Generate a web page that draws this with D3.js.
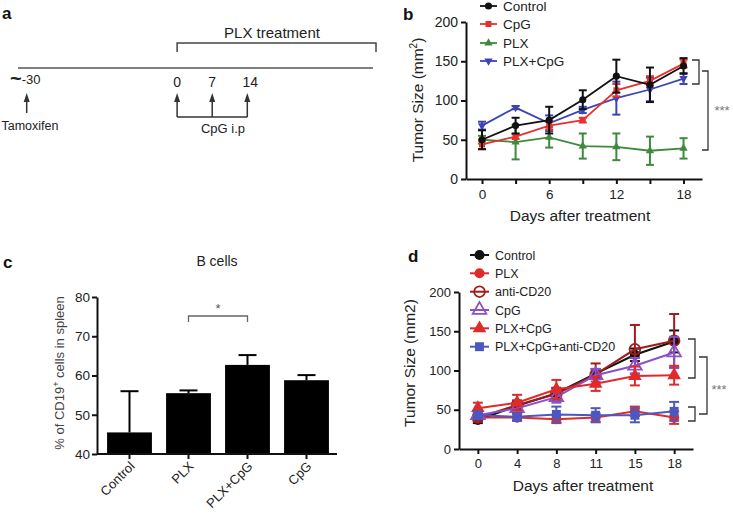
<!DOCTYPE html>
<html><head><meta charset="utf-8">
<script src="https://cdn.jsdelivr.net/npm/d3@7"></script>
<style>body{margin:0;background:#fff}svg{display:block;font-family:"Liberation Sans",Arial,sans-serif}</style>
</head><body><svg id="fig" width="733" height="515"></svg>
<script>
// ---------- Panel a (timeline) ----------
const aDoseDays = ["0", "7", "14"];
const aStart = "-30";

// ---------- Panel b data ----------
const bDays = [0, 3, 6, 9, 12, 15, 18];
const bTickLabels = [0, 6, 12, 18];
const bYTicks = [0, 50, 100, 150, 200];
const bNames = ["Control", "CpG", "PLX", "PLX+CpG"];
const bControl = [50, 68, 75, 101, 131, 120, 144];
const bControlErr = [12, 10, 17, 12, 21, 22, 10];
const bCpG = [44, 54, 68, 75, 113, 125, 147];
const bCpGErr = [6, 3, 5, 3, 8, 6, 5];
const bPLX = [50, 47, 53, 42, 41, 36, 39];
const bPLXErr = [5, 22, 13, 16, 17, 18, 13];
const bPLXCpG = [68, 91, 71, 88, 103, 114, 128];
const bPLXCpGErr = [5, 2, 10, 4, 21, 15, 7];

// ---------- Panel c data ----------
const cCategories = ["Control", "PLX", "PLX+CpG", "CpG"];
const cValues = [45.5, 55.5, 62.7, 58.8];
const cErrors = [10.5, 0.7, 2.5, 1.3];
const cYTicks = [40, 50, 60, 70, 80];

// ---------- Panel d data ----------
const dDays = ["0", "4", "8", "11", "15", "18"];
const dYTicks = [0, 50, 100, 150, 200];
const dNames = ["Control", "PLX", "anti-CD20", "CpG", "PLX+CpG", "PLX+CpG+anti-CD20"];
const dControl = [37, 55, 71, 96, 120, 137];
const dControlErr = [4, 5, 6, 6, 8, 14];
const dPLX = [40, 40, 38, 40, 48, 40];
const dPLXErr = [5, 4, 5, 5, 6, 8];
const dAntiCD20 = [40, 56, 70, 95, 127, 138];
const dAntiCD20Err = [4, 6, 8, 14, 31, 34];
const dCpG = [43, 52, 66, 94, 106, 123];
const dCpGErr = [4, 6, 7, 8, 10, 20];
const dPLXCpG = [52, 59, 76, 83, 93, 94];
const dPLXCpGErr = [7, 10, 12, 9, 12, 12];
const dTriple = [43, 41, 44, 43, 43, 48];
const dTripleErr = [5, 5, 10, 9, 9, 12];

const svg = d3.select("#fig");
const TXT = "#222";

function panelLabel(t, x, y) {
  svg.append("text").attr("x", x).attr("y", y).attr("font-size", 17).attr("font-weight", "bold").attr("fill", "#111").text(t);
}

function arrowUp(g, x, y0, y1, col) {
  g.append("line").attr("x1", x).attr("x2", x).attr("y1", y0).attr("y2", y1 + 6).attr("stroke", col).attr("stroke-width", 1.5);
  g.append("path").attr("d", `M${x},${y1} L${x - 3},${y1 + 9} L${x + 3},${y1 + 9} Z`).attr("fill", col);
}

// ================= Panel a =================
(function () {
  const g = svg.append("g");
  panelLabel("a", 2, 19);
  const t = d3.scaleLinear().domain([-30, 14]).range([26.7, 247.3]);
  g.append("line").attr("x1", 18).attr("x2", 373).attr("y1", 68).attr("y2", 68).attr("stroke", "#555").attr("stroke-width", 1.5);
  g.append("path").attr("d", `M${t(0)},52 V43 H376 V52`).attr("fill", "none").attr("stroke", "#444").attr("stroke-width", 1.5);
  g.append("text").attr("x", 272).attr("y", 38).attr("text-anchor", "middle").attr("font-size", 15).attr("fill", TXT).text("PLX treatment");
  const st = g.append("text").attr("x", 10).attr("y", 85).attr("fill", TXT);
  st.append("tspan").attr("font-size", 20).attr("font-weight", "bold").text("~");
  st.append("tspan").attr("font-size", 13).attr("dy", -1).text(aStart);
  arrowUp(g, t(-30), 113, 93, "#333");
  g.append("text").attr("x", 30).attr("y", 130).attr("text-anchor", "middle").attr("font-size", 12.5).attr("fill", TXT).text("Tamoxifen");
  aDoseDays.forEach(d => {
    const x = t(+d);
    g.append("text").attr("x", x + (d === "14" ? 3 : 0)).attr("y", 87).attr("text-anchor", "middle").attr("font-size", 14).attr("fill", TXT).text(d);
    arrowUp(g, x, 117, 93, "#333");
  });
  g.append("line").attr("x1", t(0)).attr("x2", t(14)).attr("y1", 117).attr("y2", 117).attr("stroke", "#333").attr("stroke-width", 1.5);
  g.append("text").attr("x", 223).attr("y", 133).attr("text-anchor", "middle").attr("font-size", 13).attr("fill", TXT).text("CpG i.p");
})();

function drawSeries(g, xs, vals, errs, x, y, st) {
  const line = d3.line().x((d, i) => x(xs[i])).y(d => y(d));
  g.append("path").datum(vals).attr("d", line).attr("fill", "none").attr("stroke", st.color).attr("stroke-width", st.lw);
  const eb = g.append("g").attr("stroke", st.color).attr("stroke-width", st.ew);
  vals.forEach((v, i) => {
    const cx = x(xs[i]);
    const yt = y(v + errs[i]), yb = y(v - errs[i]);
    eb.append("line").attr("x1", cx).attr("x2", cx).attr("y1", yt).attr("y2", yb);
    eb.append("line").attr("x1", cx - st.cap).attr("x2", cx + st.cap).attr("y1", yt).attr("y2", yt);
    eb.append("line").attr("x1", cx - st.cap).attr("x2", cx + st.cap).attr("y1", yb).attr("y2", yb);
  });
  g.append("g").selectAll("path").data(vals).join("path")
    .attr("transform", (d, i) => `translate(${x(xs[i])},${y(d)})${st.rot ? " rotate(180)" : ""}`)
    .attr("d", d3.symbol().type(st.sym).size(st.size))
    .attr("fill", st.fill).attr("stroke", st.color).attr("stroke-width", st.sw);
}

function legendItem(g, x0, x1, yy, tx, name, st, fs) {
  g.append("line").attr("x1", x0).attr("x2", x1).attr("y1", yy).attr("y2", yy).attr("stroke", st.color).attr("stroke-width", st.lw);
  g.append("path").attr("transform", `translate(${(x0 + x1) / 2},${yy})${st.rot ? " rotate(180)" : ""}`)
    .attr("d", d3.symbol().type(st.sym).size(st.size)).attr("fill", st.fill).attr("stroke", st.color).attr("stroke-width", st.sw);
  g.append("text").attr("x", tx).attr("y", yy + fs * 0.36).attr("font-size", fs).attr("fill", TXT).text(name);
}

function styleAxis(ax, fs) {
  ax.selectAll(".domain").attr("stroke", "#111").attr("stroke-width", 2);
  ax.selectAll(".tick line").attr("stroke", "#111").attr("stroke-width", 2);
  ax.selectAll(".tick text").attr("font-size", fs).attr("fill", TXT).attr("font-family", "Liberation Sans, Arial, sans-serif");
}

// ================= Panel b =================
(function () {
  const g = svg.append("g");
  panelLabel("b", 403, 20);
  const x = d3.scaleLinear().domain([-1.43, 19.65]).range([466, 702]);
  const y = d3.scaleLinear().domain([0, 200]).range([179, 22]);
  const ax = g.append("g").attr("transform", "translate(0,179)")
    .call(d3.axisBottom(x).tickValues(bDays).tickSize(5).tickSizeOuter(0).tickPadding(5)
      .tickFormat(d => bTickLabels.includes(d) ? d : ""));
  styleAxis(ax, 13.5);
  const ay = g.append("g").attr("transform", "translate(466,0)")
    .call(d3.axisLeft(y).tickValues(bYTicks).tickSize(5).tickSizeOuter(0).tickPadding(3));
  styleAxis(ay, 14);
  g.append("text").attr("x", 580).attr("y", 221).attr("text-anchor", "middle").attr("font-size", 15.5).attr("fill", TXT).text("Days after treatment");
  const yt = g.append("text").attr("transform", "translate(423,100) rotate(-90)").attr("text-anchor", "middle").attr("font-size", 15.5).attr("fill", TXT);
  yt.append("tspan").text("Tumor Size (mm");
  yt.append("tspan").attr("font-size", 10).attr("dy", -6).text("2");
  yt.append("tspan").attr("dy", 6).text(")");

  const series = [
    { name: bNames[3], v: bPLXCpG, e: bPLXCpGErr, st: { color: "#3b45b5", fill: "#3b45b5", sym: d3.symbolTriangle, rot: true, size: 30, lw: 1.8, ew: 2, cap: 4, sw: 0 } },
    { name: bNames[2], v: bPLX, e: bPLXErr, st: { color: "#3d8a3d", fill: "#3d8a3d", sym: d3.symbolTriangle, rot: false, size: 30, lw: 1.8, ew: 2, cap: 4, sw: 0 } },
    { name: bNames[1], v: bCpG, e: bCpGErr, st: { color: "#e8312f", fill: "#e8312f", sym: d3.symbolSquare, rot: false, size: 36, lw: 1.8, ew: 2, cap: 4, sw: 0 } },
    { name: bNames[0], v: bControl, e: bControlErr, st: { color: "#111", fill: "#111", sym: d3.symbolCircle, rot: false, size: 40, lw: 1.8, ew: 2, cap: 4, sw: 0 } }
  ];
  series.forEach(s => drawSeries(g, bDays, s.v, s.e, x, y, s.st));
  const ly = [6, 24, 43, 61];
  series.slice().reverse().forEach((s, i) => legendItem(g, 480, 497, ly[i], 503, s.name, s.st, 13.5));

  const bc = "#333";
  g.append("path").attr("d", "M692,60 H699 V84 H692").attr("fill", "none").attr("stroke", bc).attr("stroke-width", 1.3);
  g.append("path").attr("d", "M702,71 H708 V150 H702").attr("fill", "none").attr("stroke", bc).attr("stroke-width", 1.3);
  g.append("text").attr("x", 722).attr("y", 115).attr("text-anchor", "middle").attr("font-size", 13).attr("fill", "#777").text("***");
})();

// ================= Panel c =================
(function () {
  const g = svg.append("g");
  panelLabel("c", 3, 268);
  const x = d3.scaleBand().domain(cCategories).range([100, 336]).paddingInner(0.24).paddingOuter(0.12);
  const y = d3.scaleLinear().domain([40, 80]).range([454, 297]);
  g.append("text").attr("x", 217).attr("y", 266).attr("text-anchor", "middle").attr("font-size", 14).attr("fill", TXT).text("B cells");
  g.selectAll("rect.bar").data(cValues).join("rect").attr("class", "bar")
    .attr("x", (d, i) => x(cCategories[i])).attr("width", x.bandwidth())
    .attr("y", d => y(d)).attr("height", d => y(40) - y(d)).attr("fill", "#000");
  cValues.forEach((v, i) => {
    const cx = x(cCategories[i]) + x.bandwidth() / 2;
    g.append("line").attr("x1", cx).attr("x2", cx).attr("y1", y(v)).attr("y2", y(v + cErrors[i])).attr("stroke", "#000").attr("stroke-width", 2);
    g.append("line").attr("x1", cx - 9).attr("x2", cx + 9).attr("y1", y(v + cErrors[i])).attr("y2", y(v + cErrors[i])).attr("stroke", "#000").attr("stroke-width", 2);
  });
  const ax = g.append("g").attr("transform", "translate(0,454)")
    .call(d3.axisBottom(x).tickSize(5).tickSizeOuter(0).tickFormat(""));
  styleAxis(ax, 13);
  ax.select(".domain").attr("d", "M97,0H337");
  const ay = g.append("g").attr("transform", "translate(97,0)")
    .call(d3.axisLeft(y).tickValues(cYTicks).tickSize(5).tickSizeOuter(0).tickPadding(2));
  styleAxis(ay, 13.5);
  cCategories.forEach(c => {
    const cx = x(c) + x.bandwidth() / 2 + 6;
    g.append("text").attr("transform", `translate(${cx},467) rotate(-45)`).attr("text-anchor", "end")
      .attr("font-size", 13).attr("fill", TXT).text(c);
  });
  const yt = g.append("text").attr("transform", "translate(64,373) rotate(-90)").attr("text-anchor", "middle").attr("font-size", 13).attr("fill", "#444");
  yt.append("tspan").text("% of CD19");
  yt.append("tspan").attr("font-size", 9).attr("dy", -5).text("+");
  yt.append("tspan").attr("dy", 5).text(" cells in spleen");
  const x1 = x("PLX") + x.bandwidth() / 2, x2 = x("PLX+CpG") + x.bandwidth() / 2;
  g.append("path").attr("d", `M${x1},322 V316 H${x2} V322`).attr("fill", "none").attr("stroke", "#666").attr("stroke-width", 1.3);
  g.append("text").attr("x", (x1 + x2) / 2).attr("y", 313).attr("text-anchor", "middle").attr("font-size", 13).attr("fill", "#555").text("*");
})();

// ================= Panel d =================
(function () {
  const g = svg.append("g");
  panelLabel("d", 408, 262);
  const x = d3.scalePoint().domain(dDays).range([459, 693]).padding(0.48);
  const y = d3.scaleLinear().domain([0, 200]).range([449, 292]);
  const ax = g.append("g").attr("transform", "translate(0,449)")
    .call(d3.axisBottom(x).tickSize(5).tickSizeOuter(0).tickPadding(5));
  styleAxis(ax, 13);
  const ay = g.append("g").attr("transform", "translate(459,0)")
    .call(d3.axisLeft(y).tickValues(dYTicks).tickSize(5).tickSizeOuter(0).tickPadding(3));
  styleAxis(ay, 13);
  g.append("text").attr("x", 583).attr("y", 491).attr("text-anchor", "middle").attr("font-size", 15.5).attr("fill", TXT).text("Days after treatment");
  g.append("text").attr("transform", "translate(415,363) rotate(-90)").attr("text-anchor", "middle").attr("font-size", 15.5).attr("fill", TXT).text("Tumor Size (mm2)");

  const series = [
    { name: dNames[0], v: dControl, e: dControlErr, st: { color: "#111", fill: "#111", sym: d3.symbolCircle, size: 80, lw: 2, ew: 2, cap: 5, sw: 0 } },
    { name: dNames[1], v: dPLX, e: dPLXErr, st: { color: "#e02a2a", fill: "#e02a2a", sym: d3.symbolCircle, size: 80, lw: 2, ew: 2, cap: 5, sw: 0 } },
    { name: dNames[2], v: dAntiCD20, e: dAntiCD20Err, st: { color: "#a01c1c", fill: "none", sym: d3.symbolCircle, size: 90, lw: 2, ew: 2, cap: 5, sw: 1.8 } },
    { name: dNames[3], v: dCpG, e: dCpGErr, st: { color: "#8a52c6", fill: "none", sym: d3.symbolTriangle, size: 80, lw: 2, ew: 2, cap: 5, sw: 1.8 } },
    { name: dNames[4], v: dPLXCpG, e: dPLXCpGErr, st: { color: "#e02a2a", fill: "#e02a2a", sym: d3.symbolTriangle, size: 80, lw: 2, ew: 2, cap: 5, sw: 0 } },
    { name: dNames[5], v: dTriple, e: dTripleErr, st: { color: "#4a58c0", fill: "#4a58c0", sym: d3.symbolSquare, size: 80, lw: 2, ew: 2, cap: 5, sw: 0 } }
  ];
  series.forEach(s => drawSeries(g, dDays, s.v, s.e, x, y, s.st));
  const ly = [255, 273.3, 291.7, 310, 328.3, 346.7];
  series.forEach((s, i) => legendItem(g, 470, 489, ly[i], 495, s.name, s.st, 12.5));

  const bc = "#333";
  g.append("path").attr("d", "M688,339 H695 V378 H688").attr("fill", "none").attr("stroke", bc).attr("stroke-width", 1.3);
  g.append("path").attr("d", "M688,407 H695 V421 H688").attr("fill", "none").attr("stroke", bc).attr("stroke-width", 1.3);
  g.append("path").attr("d", "M699,357 H707 V414 H699").attr("fill", "none").attr("stroke", bc).attr("stroke-width", 1.3);
  g.append("text").attr("x", 719).attr("y", 394).attr("text-anchor", "middle").attr("font-size", 13).attr("fill", "#777").text("***");
})();
</script></body></html>
